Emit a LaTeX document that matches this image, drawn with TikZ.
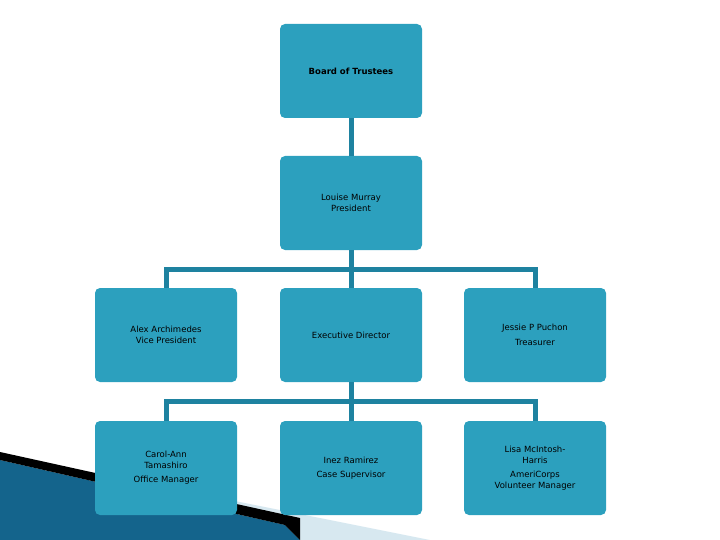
\documentclass[tikz,border=0pt]{standalone}
\usepackage{fontspec}
\setmainfont{DejaVu Sans}
\definecolor{orgteal}{RGB}{44, 160, 190}
\definecolor{linkteal}{RGB}{30, 130, 160}
\definecolor{decodark}{RGB}{20, 100, 140}
\definecolor{decolight}{RGB}{215, 232, 240}
\usetikzlibrary{positioning, calc}

\begin{document}
\begin{tikzpicture}[x=1pt, y=-1pt,
    card/.style={rectangle, fill=orgteal, rounded corners=5pt, minimum width=142pt, minimum height=94pt, align=center, font=\fontsize{8.5}{11}\selectfont},
    link/.style={draw=linkteal, line width=5pt}
]
    \useasboundingbox (0,0) rectangle (720,540);

    % corner decoration
    \fill[decolight] (230,500) -- (430,540) -- (280,540) -- cycle;
    \fill[decodark] (0,460) -- (285,525) -- (300,540) -- (0,540) -- cycle;
    \fill[black] (0,452) -- (300,518) -- (300,540) -- (285,525) -- (0,460) -- cycle;

    \node[card] (board) at (351,71) {\textbf{Board of Trustees}};
    \node[card] (pres) at (351,203) {Louise Murray\\President};

    \node[card] (vp) at (166,335) {Alex Archimedes\\Vice President};
    \node[card] (exec) at (351,335) {Executive Director};
    \node[card] (treas) at (535,335) {Jessie P Puchon\\[4pt]Treasurer};

    \node[card] (office) at (166,468) {Carol-Ann\\Tamashiro\\[3pt]Office Manager};
    \node[card] (case) at (351,468) {Inez Ramirez\\[3pt]Case Supervisor};
    \node[card] (volunteer) at (535,468) {Lisa McIntosh-\\Harris\\[3pt]AmeriCorps\\Volunteer Manager};

    \draw[link] (board) -- (pres);
    \draw[link] (pres.south) -- ++(0,19) -| (vp.north);
    \draw[link] (pres.south) -- ++(0,19) -| (treas.north);
    \draw[link] (pres) -- (exec);
    \draw[link] (exec.south) -- ++(0,19) -| (office.north);
    \draw[link] (exec.south) -- ++(0,19) -| (volunteer.north);
    \draw[link] (exec) -- (case);
\end{tikzpicture}
\end{document}
